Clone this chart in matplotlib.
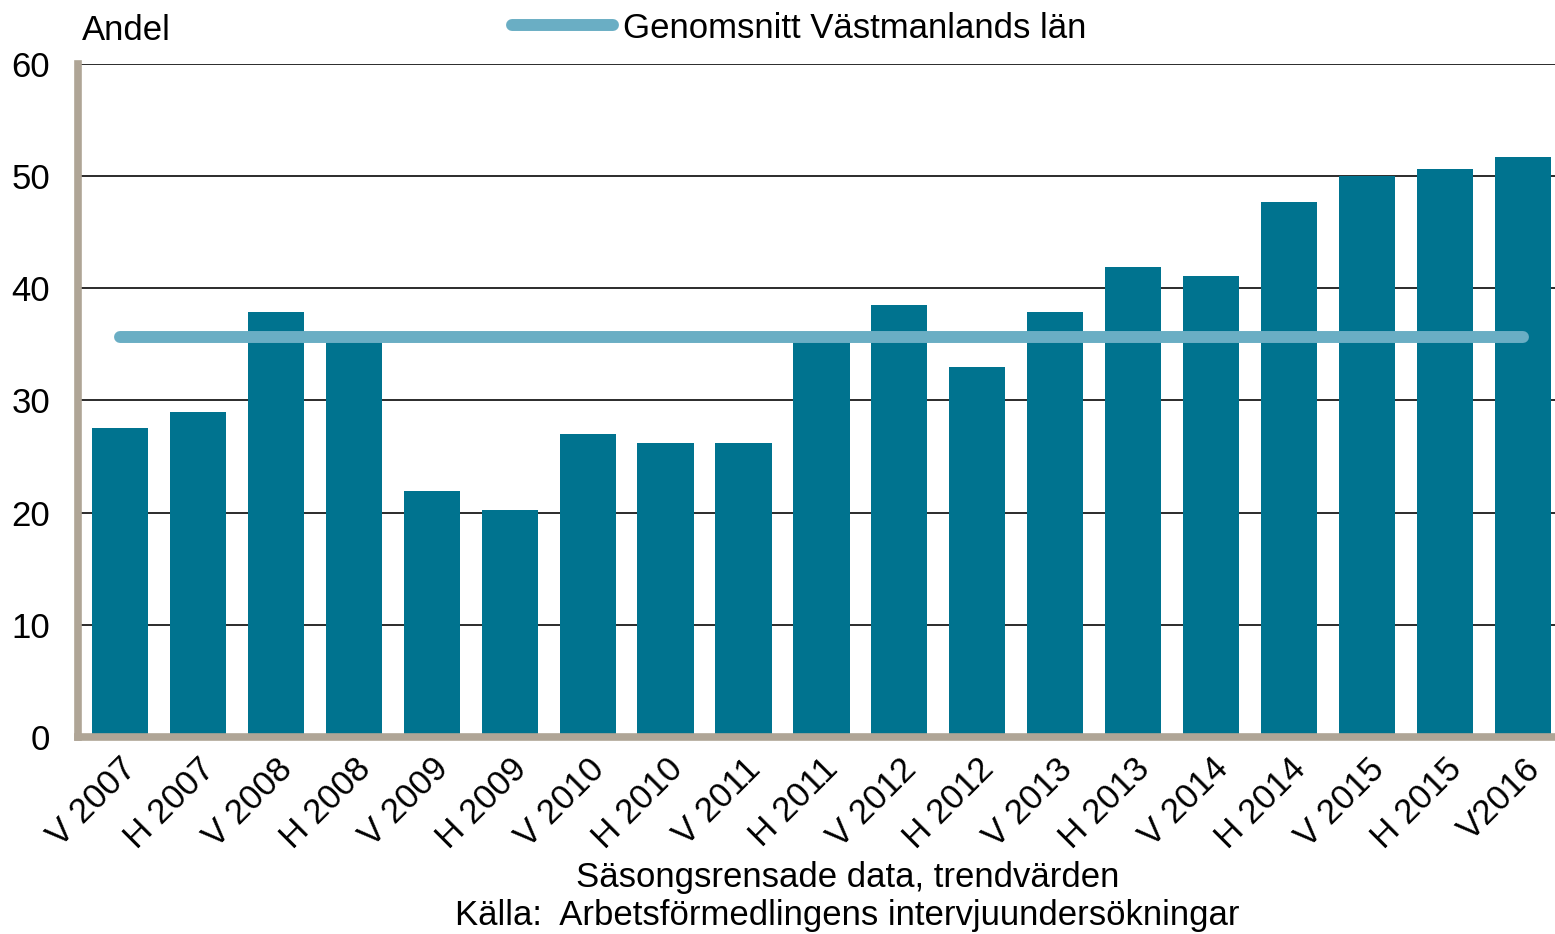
import numpy as np
import matplotlib.pyplot as plt

plt.rcParams['font.family'] = ['Liberation Sans', 'DejaVu Sans']

# Andel per halvår
perioder = ['V 2007', 'H 2007', 'V 2008', 'H 2008', 'V 2009', 'H 2009',
            'V 2010', 'H 2010', 'V 2011', 'H 2011', 'V 2012', 'H 2012',
            'V 2013', 'H 2013', 'V 2014', 'H 2014', 'V 2015', 'H 2015',
            'V2016']
andel = [27.5, 29.0, 37.9, 35.4, 21.9, 20.2, 27.0, 26.2, 26.2, 35.4,
         38.5, 33.0, 37.9, 41.9, 41.1, 47.7, 50.0, 50.6, 51.7]
genomsnitt = 35.7

x = np.arange(len(perioder))
fs = 25

fig = plt.figure(figsize=(15.55, 9.34), dpi=100)
ax = fig.add_axes([0.050, 0.211, 0.950, 0.7205])

ax.bar(x, andel, width=0.72, color='#00738f', zorder=2)
ax.plot(x, [genomsnitt] * len(x), color='#6aaec4', linewidth=8.6,
        solid_capstyle='round', zorder=3, label='Genomsnitt Västmanlands län')

ax.set_ylim(0, 60)
ax.set_yticks(np.arange(0, 61, 10))
ax.set_xlim(-0.54, 18.41)
ax.set_xticks(x)
ax.set_xticklabels(perioder, rotation=45, ha='right', rotation_mode='anchor')
ax.tick_params(axis='both', length=0, labelsize=fs)
ax.tick_params(axis='y', pad=20)
ax.tick_params(axis='x', pad=11)

ax.grid(axis='y', color='#1a1a1a', linewidth=1.3, zorder=0)
ax.set_axisbelow(True)
for s in ['top', 'right']:
    ax.spines[s].set_visible(False)
for s in ['left', 'bottom']:
    ax.spines[s].set_color('#afa596')
    ax.spines[s].set_linewidth(5.5)

ax.text(0.003, 1.025, 'Andel', transform=ax.transAxes, fontsize=fs,
        ha='left', va='bottom')

ax.legend(loc='center', bbox_to_anchor=(0.514, 0.970),
          bbox_transform=fig.transFigure, frameon=False, fontsize=fs,
          handlelength=2.9, handletextpad=0.3)

fig.text(0.545, 0.060, 'Säsongsrensade data, trendvärden', fontsize=fs,
         ha='center', va='center')
fig.text(0.545, 0.020, 'Källa:  Arbetsförmedlingens intervjuundersökningar',
         fontsize=fs, ha='center', va='center')

fig.savefig('out.png', dpi=100)
